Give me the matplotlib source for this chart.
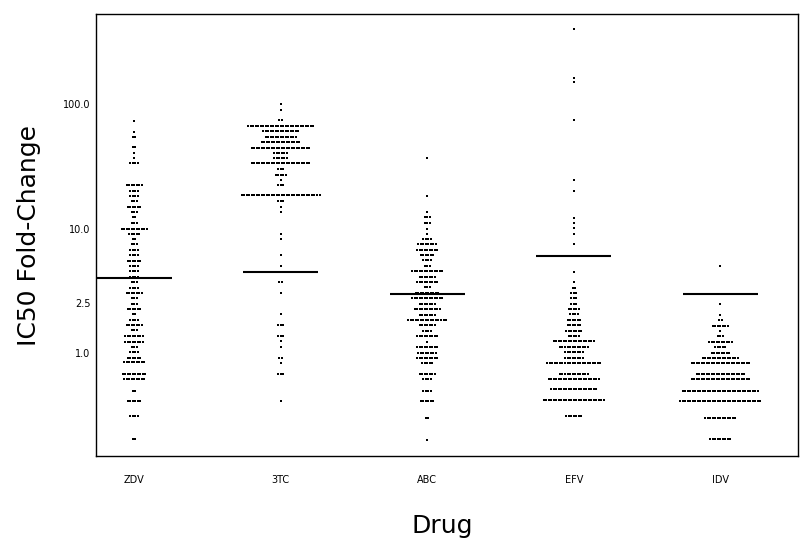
import numpy as np
import matplotlib
matplotlib.use('Agg')
import matplotlib.pyplot as plt

# drug order on the x axis
drugs = ['ZDV', '3TC', 'ABC', 'EFV', 'IDV']

# clinical cutoff (horizontal line) for each drug
cutoffs = [4.0, 4.5, 3.0, 6.0, 3.0]

# binned fold-change levels and number of samples in each bin
zdv_levels = [73.4, 59.9, 54.6, 44.9, 40.6, 36.6, 33.4, 22.2, 20.1, 18.3, 16.6, 15.0,
              13.5, 12.3, 11.1, 10.0, 9.08, 8.24, 7.46, 6.71, 6.09, 5.51, 5.0, 4.52,
              4.10, 3.70, 3.35, 3.03, 2.75, 2.49, 2.26, 2.05, 1.85, 1.68, 1.52, 1.36,
              1.23, 1.12, 1.02, 0.92, 0.84, 0.68, 0.62, 0.50, 0.41, 0.31, 0.205]
zdv_counts = [1, 1, 2, 2, 1, 1, 4, 7, 4, 4, 3, 6,
              3, 2, 3, 11, 5, 2, 3, 4, 4, 6, 4, 4,
              4, 3, 4, 7, 3, 3, 6, 2, 4, 7, 3, 8,
              8, 3, 4, 6, 9, 10, 9, 2, 6, 4, 2]

tc_levels = [100.0, 89.5, 74.0, 66.6, 60.4, 54.3, 49.2, 44.7, 40.5, 36.6, 33.3, 30.1,
             27.0, 24.5, 22.2, 18.6, 16.6, 15.0, 13.5, 9.1, 8.24, 6.12, 5.0, 3.70,
             3.03, 2.05, 1.67, 1.37, 1.25, 1.12, 0.92, 0.83, 0.68, 0.41]
tc_counts = [1, 1, 2, 27, 15, 13, 16, 24, 6, 6, 24, 3,
             5, 1, 3, 32, 3, 1, 1, 1, 1, 1, 1, 2,
             1, 1, 3, 3, 1, 1, 2, 1, 3, 1]

abc_levels = [36.6, 18.3, 13.5, 12.3, 11.1, 10.0, 9.08, 8.24, 7.46, 6.76, 6.12, 5.54,
              5.0, 4.52, 4.10, 3.72, 3.37, 3.05, 2.75, 2.47, 2.24, 2.03, 1.84, 1.67,
              1.51, 1.37, 1.23, 1.12, 1.01, 0.92, 0.83, 0.68, 0.62, 0.50, 0.41, 0.30, 0.20]
abc_counts = [1, 1, 1, 3, 3, 1, 1, 4, 8, 9, 6, 4,
              3, 13, 7, 9, 3, 10, 13, 7, 11, 7, 16, 7,
              4, 9, 1, 9, 8, 9, 5, 7, 4, 4, 6, 2, 1]

efv_levels = [400.0, 163.0, 149.0, 74.0, 24.5, 20.1, 12.2, 11.1, 10.1, 9.1, 7.46, 4.50,
              3.70, 3.35, 3.03, 2.75, 2.49, 2.26, 2.05, 1.84, 1.67, 1.51, 1.37, 1.24,
              1.12, 1.02, 0.92, 0.83, 0.68, 0.62, 0.51, 0.42, 0.31]
efv_counts = [1, 1, 1, 1, 1, 1, 1, 1, 1, 1, 1, 1,
              1, 2, 3, 3, 3, 5, 4, 6, 6, 7, 5, 17,
              12, 8, 8, 22, 12, 21, 19, 25, 7]

idv_levels = [5.0, 2.47, 2.02, 1.84, 1.66, 1.50, 1.36, 1.23, 1.12, 1.01, 0.92, 0.83,
              0.68, 0.62, 0.50, 0.41, 0.30, 0.205]
idv_counts = [1, 1, 1, 2, 7, 1, 3, 10, 5, 8, 15, 24,
              20, 24, 31, 33, 13, 9]

all_levels = [zdv_levels, tc_levels, abc_levels, efv_levels, idv_levels]
all_counts = [zdv_counts, tc_counts, abc_counts, efv_counts, idv_counts]

DOT_STEP = 0.0171   # horizontal gap between stacked dots (x units)
LINE_HALF = 0.256   # half width of cutoff line

fig = plt.figure(figsize=(8.0, 5.51), dpi=100)
ax = fig.add_axes([0.12, 0.1724, 0.8775, 0.8022])

for i, (levels, counts) in enumerate(zip(all_levels, all_counts)):
    xs = []
    ys = []
    for lev, n in zip(levels, counts):
        offs = (np.arange(n) - (n - 1) / 2.0) * DOT_STEP
        xs.extend(i + offs)
        ys.extend([lev] * n)
    ax.scatter(xs, ys, s=2.2, marker='s', color='black', linewidths=0)
    ax.plot([i - LINE_HALF, i + LINE_HALF], [cutoffs[i], cutoffs[i]],
            color='black', linewidth=1.5, solid_capstyle='butt')

ax.set_yscale('log')
ax.set_ylim(0.149, 528)
ax.set_xlim(-0.26, 4.53)

ax.set_yticks([1.0, 2.5, 10.0, 100.0])
ax.set_yticklabels(['1.0', '2.5', '10.0', '100.0'])
ax.yaxis.set_minor_locator(matplotlib.ticker.NullLocator())
ax.set_xticks(range(len(drugs)))
ax.set_xticklabels(drugs)

ax.tick_params(axis='both', length=0, labelsize=7)
ax.tick_params(axis='y', pad=4)
ax.tick_params(axis='x', pad=14)

for sp in ax.spines.values():
    sp.set_linewidth(1.0)
    sp.set_color('black')

ax.set_ylabel('IC50 Fold-Change', fontsize=18)
ax.yaxis.set_label_coords(-0.079, 0.5)
ax.set_xlabel('Drug', fontsize=18)
ax.xaxis.set_label_coords(0.493, -0.131)

fig.savefig('out.png', dpi=100)
